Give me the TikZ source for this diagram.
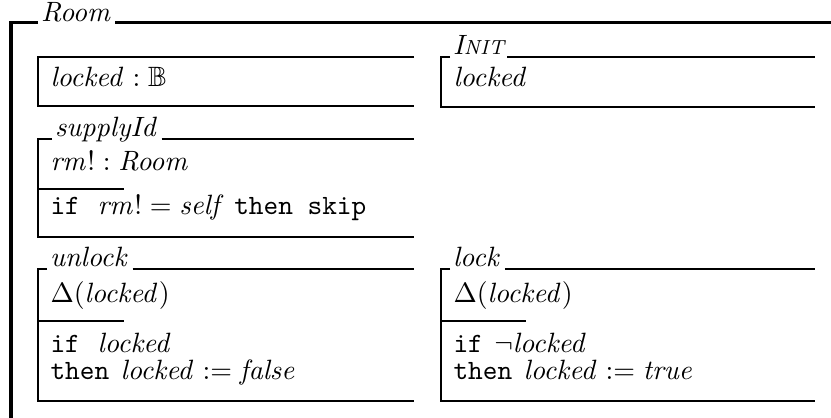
\documentclass[tikz,border=0pt]{standalone}
\usepackage{amssymb}
% keywords of the specification language, set in typewriter type
\newcommand\ozkw[1]{{\ttfamily #1}}
\begin{document}
\begin{tikzpicture}[x=0.392pt,y=-0.392pt,
  every node/.style={font=\fontsize{10.95}{13}\selectfont},
  frame/.style={line width=1.18pt},
  sch/.style={line width=0.8pt},
  txt/.style={anchor=base west, inner sep=0pt},
  lbl/.style={anchor=base west, inner xsep=1pt, inner ysep=0pt}]
\useasboundingbox (0,0) rectangle (831,418);

% class frame
\node[lbl] (room) at (38,22) {$\mathit{Room}$};
\draw[frame] (room.west |- 0,23) -- (11,23) -- (11,418);
\draw[frame] (room.east |- 0,23) -- (831,23);

% state schema
\draw[sch] (414,57) -- (38,57) -- (38,106) -- (414,106);
\node[txt] (state) at (50,87) {$\mathit{locked} : \mathbb{B}$};

% initial state schema
\node[lbl] (init) at (450,55) {\itshape I{\fontsize{8}{9.6}\selectfont NIT}};
\draw[sch] (init.east |- 0,57) -- (815,57);
\draw[sch] (init.west |- 0,57) -- (441,57) -- (441,107) -- (815,107);
\node[txt] (initp) at (453,87) {$\mathit{locked}$};

% operation supplyId
\node[lbl] (sup) at (52,137) {$\mathit{supplyId}$};
\draw[sch] (sup.east |- 0,139) -- (414,139);
\draw[sch] (sup.west |- 0,139) -- (38,139) -- (38,237) -- (414,237);
\draw[sch] (38,189) -- (124,189);
\node[txt] (supd) at (50,171) {$\mathit{rm}! : \mathit{Room}$};
\node[txt] (supp) at (50,215) {\ozkw{if}\hspace{7pt}$\mathit{rm}! = \mathit{self}$\hspace{3.5pt}\ozkw{then skip}};

% operation unlock
\node[lbl] (unl) at (47,267) {$\mathit{unlock}$};
\draw[sch] (unl.east |- 0,269) -- (414,269);
\draw[sch] (unl.west |- 0,269) -- (38,269) -- (38,401) -- (414,401);
\draw[sch] (38,321) -- (124,321);
\node[txt] (unld) at (50,302) {$\Delta(\mathit{locked})$};
\node[txt] (unl1) at (50,352) {\ozkw{if}\hspace{7pt}$\mathit{locked}$};
\node[txt] (unl2) at (50,379) {\ozkw{then}\hspace{4.5pt}$\mathit{locked} := \mathit{false}$};

% operation lock
\node[lbl] (lck) at (450,267) {$\mathit{lock}$};
\draw[sch] (lck.east |- 0,269) -- (815,269);
\draw[sch] (lck.west |- 0,269) -- (441,269) -- (441,401) -- (815,401);
\draw[sch] (441,321) -- (526,321);
\node[txt] (lckd) at (453,302) {$\Delta(\mathit{locked})$};
\node[txt] (lck1) at (453,352) {\ozkw{if}\hspace{4.5pt}$\neg\mathit{locked}$};
\node[txt] (lck2) at (453,379) {\ozkw{then}\hspace{4.5pt}$\mathit{locked} := \mathit{true}$};
\end{tikzpicture}
\end{document}
